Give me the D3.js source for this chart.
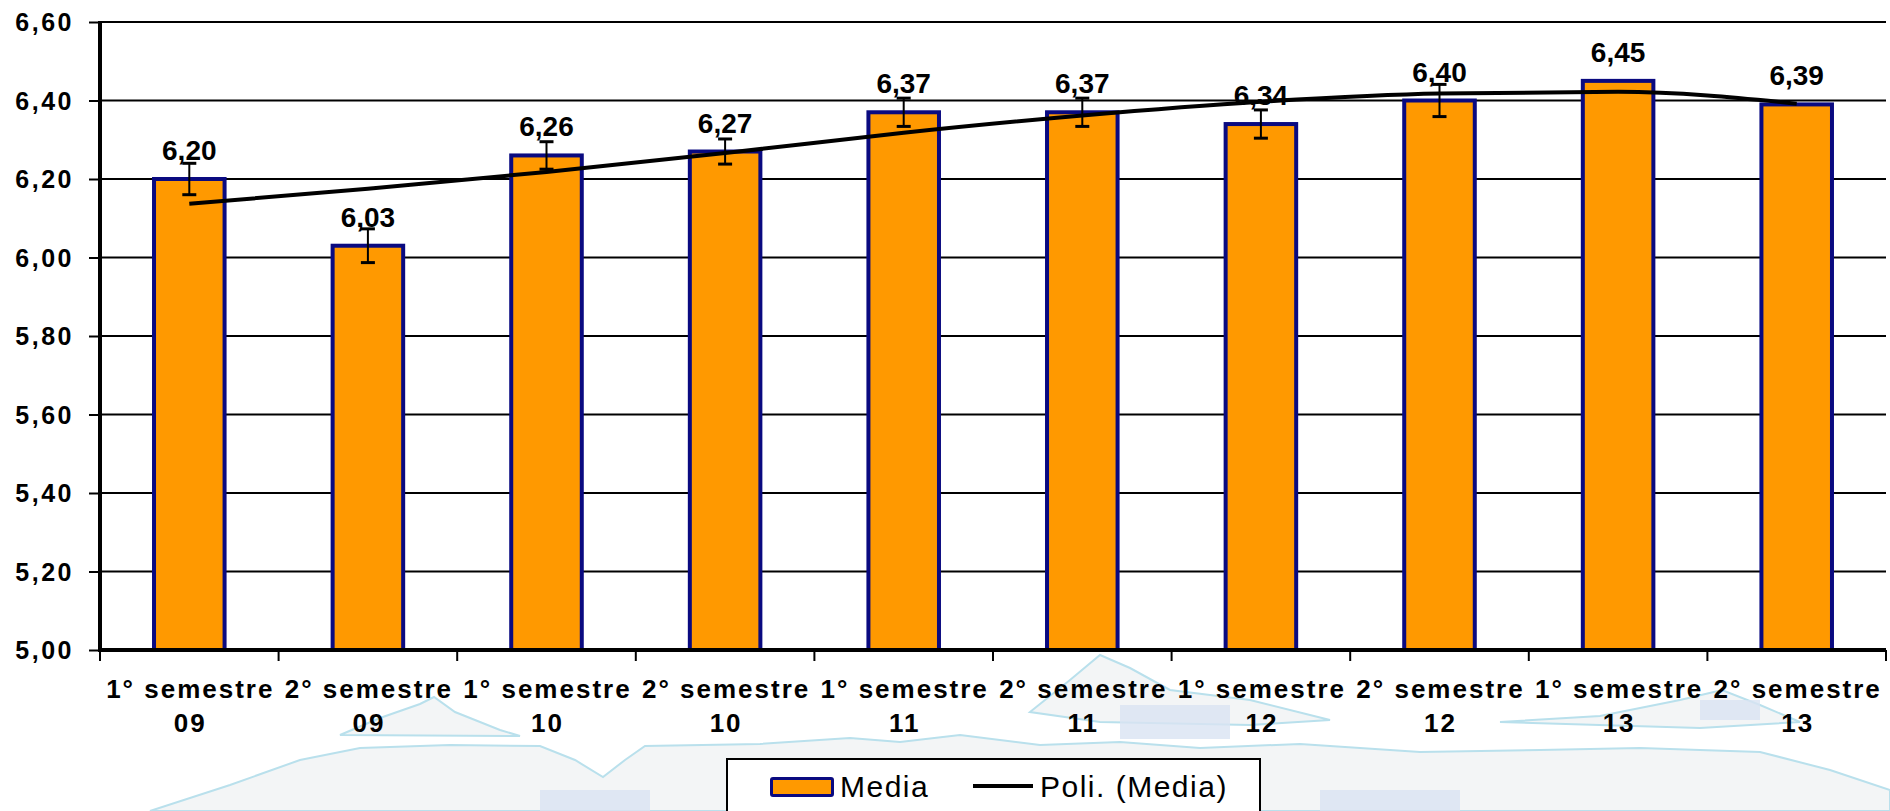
<!DOCTYPE html>
<html>
<head>
<meta charset="utf-8">
<script src="https://cdn.jsdelivr.net/npm/d3@7/dist/d3.min.js"></script>
<style>
  html, body { margin: 0; padding: 0; background: #ffffff; }
  svg { display: block; }
  text { font-family: "Liberation Sans", Arial, sans-serif; }
</style>
</head>
<body>
<svg id="chart" width="1890" height="811"></svg>
<script>
// ---- data ----
const categories = [
  ["1° semestre", "09"], ["2° semestre", "09"],
  ["1° semestre", "10"], ["2° semestre", "10"],
  ["1° semestre", "11"], ["2° semestre", "11"],
  ["1° semestre", "12"], ["2° semestre", "12"],
  ["1° semestre", "13"], ["2° semestre", "13"]
];
const media = [6.20, 6.03, 6.26, 6.27, 6.37, 6.37, 6.34, 6.40, 6.45, 6.39];
const errors = [0.040, 0.043, 0.035, 0.032, 0.036, 0.036, 0.036, 0.041, null, null];
const trend = [6.137, 6.175, 6.218, 6.266, 6.318, 6.362, 6.397, 6.418, 6.422, 6.392];
const yTicks = [5.00, 5.20, 5.40, 5.60, 5.80, 6.00, 6.20, 6.40, 6.60];
const legendLabels = ["Media", "Poli. (Media)"];

(function () {
const fmt = v => v.toFixed(2).replace(".", ",");

const svg = d3.select("#chart");
const pL = 100, pR = 1886, pT = 22, pB = 650;

// ---- faint background watermark (decoration) ----
const wm = svg.append("g").attr("class", "watermark");
const hills = [
  "M150,811 L230,785 L300,760 L360,748 L450,745 L540,746 L575,760 L603,777 L625,760 L645,746 L760,744 L850,738 L900,742 L960,735 L1040,745 L1120,742 L1200,748 L1300,744 L1420,752 L1540,750 L1640,748 L1760,752 L1830,770 L1890,790 L1890,811 Z",
  "M340,735 L380,718 L420,704 L434,697 L455,712 L480,722 L500,730 L520,736 Z",
  "M1030,712 L1070,680 L1100,655 L1130,668 L1170,690 L1250,700 L1330,720 L1250,725 L1100,722 Z",
  "M1500,722 L1600,716 L1680,700 L1722,690 L1760,705 L1800,722 L1700,728 Z"
];
wm.selectAll("path.hill").data(hills).join("path")
  .attr("class", "hill")
  .attr("d", d => d)
  .attr("fill", "#f3f5f6")
  .attr("stroke", "#b9e0ec")
  .attr("stroke-width", 2);
const patches = [[1120, 705, 110, 34], [1700, 700, 60, 20], [540, 790, 110, 21], [1320, 790, 140, 21], [870, 790, 80, 21]];
wm.selectAll("rect.patch").data(patches).join("rect")
  .attr("class", "patch")
  .attr("x", d => d[0]).attr("y", d => d[1]).attr("width", d => d[2]).attr("height", d => d[3])
  .attr("fill", "#d9e3f3").attr("opacity", 0.8);

// ---- scales ----
const x = d3.scaleBand().domain(d3.range(categories.length)).range([pL, pR]).padding(0);
const y = d3.scaleLinear().domain([5.0, 6.6]).range([pB, pT]);
const bw = x.bandwidth() * 0.395;
const cx = i => x(i) + x.bandwidth() / 2;

// plot area background
svg.append("rect").attr("x", pL).attr("y", pT).attr("width", pR - pL).attr("height", pB - pT).attr("fill", "#ffffff");

// ---- gridlines ----
svg.append("g").selectAll("line").data(yTicks.slice(1)).join("line")
  .attr("x1", pL).attr("x2", pR)
  .attr("y1", d => y(d)).attr("y2", d => y(d))
  .attr("stroke", "#000").attr("stroke-width", 2);

// ---- y axis ----
const yAxis = d3.axisLeft(y).tickValues(yTicks).tickSize(11).tickFormat(fmt);
const gy = svg.append("g").attr("transform", `translate(${pL},0)`).call(yAxis);
gy.select(".domain").remove();
gy.selectAll(".tick line").attr("stroke", "#000").attr("stroke-width", 2);
gy.selectAll(".tick text")
  .attr("x", -26)
  .attr("dy", "0.35em")
  .attr("fill", "#000")
  .style("font-family", "'Liberation Sans', Arial, sans-serif")
  .style("font-size", "25px")
  .style("font-weight", "bold")
  .style("letter-spacing", "2.5px");

// ---- x axis ticks ----
const xTickPos = d3.range(categories.length + 1).map(i => pL + i * x.bandwidth());
svg.append("g").selectAll("line").data(xTickPos).join("line")
  .attr("x1", d => d).attr("x2", d => d)
  .attr("y1", pB).attr("y2", pB + 11)
  .attr("stroke", "#000").attr("stroke-width", 2);

// ---- bars ----
svg.append("g").selectAll("rect").data(media).join("rect")
  .attr("x", (d, i) => cx(i) - bw / 2)
  .attr("y", d => y(d))
  .attr("width", bw)
  .attr("height", d => pB - y(d))
  .attr("fill", "#FF9900")
  .attr("stroke", "#0A0A80")
  .attr("stroke-width", 4);

// axis lines (drawn over bar bottoms)
svg.append("line").attr("x1", pL).attr("x2", pR).attr("y1", pB).attr("y2", pB)
  .attr("stroke", "#000").attr("stroke-width", 4);
svg.append("line").attr("x1", pL).attr("x2", pL).attr("y1", pT - 1).attr("y2", pB + 2)
  .attr("stroke", "#000").attr("stroke-width", 4);

// ---- x labels ----
const xl = svg.append("g").selectAll("text").data(categories).join("text")
  .attr("x", (d, i) => cx(i) + 1)
  .attr("y", 698)
  .attr("text-anchor", "middle")
  .attr("fill", "#000")
  .style("font-size", "26px")
  .style("font-weight", "bold")
  .style("letter-spacing", "2px");
xl.append("tspan").attr("x", (d, i) => cx(i) + 1).text(d => d[0]);
xl.append("tspan").attr("x", (d, i) => cx(i) + 1).attr("dy", 34).text(d => d[1]);

// ---- trend line ----
const line = d3.line().x((d, i) => cx(i)).y(d => y(d)).curve(d3.curveMonotoneX);
svg.append("path").datum(trend)
  .attr("d", line)
  .attr("fill", "none")
  .attr("stroke", "#000")
  .attr("stroke-width", 4);

// ---- error bars ----
const ebData = media.map((v, i) => ({ v, e: errors[i], i })).filter(d => d.e != null);
const eb = svg.append("g").selectAll("g").data(ebData).join("g");
eb.append("line")
  .attr("x1", d => cx(d.i)).attr("x2", d => cx(d.i))
  .attr("y1", d => y(d.v + d.e)).attr("y2", d => y(d.v - d.e))
  .attr("stroke", "#000").attr("stroke-width", 2);
eb.selectAll("line.cap").data(d => [[d.i, d.v + d.e], [d.i, d.v - d.e]]).join("line")
  .attr("class", "cap")
  .attr("x1", d => cx(d[0]) - 7).attr("x2", d => cx(d[0]) + 7)
  .attr("y1", d => y(d[1])).attr("y2", d => y(d[1]))
  .attr("stroke", "#000").attr("stroke-width", 3);

// ---- data labels ----
svg.append("g").selectAll("text").data(media).join("text")
  .attr("x", (d, i) => cx(i))
  .attr("y", d => y(d) - 19)
  .attr("text-anchor", "middle")
  .attr("fill", "#000")
  .style("font-size", "28px")
  .style("font-weight", "bold")
  .text(d => fmt(d));

// ---- legend ----
const lg = svg.append("g");
lg.append("rect").attr("x", 727).attr("y", 759).attr("width", 533).attr("height", 80)
  .attr("fill", "#ffffff").attr("stroke", "#000").attr("stroke-width", 2);
lg.append("rect").attr("x", 771.5).attr("y", 778.5).attr("width", 61).attr("height", 17)
  .attr("fill", "#FF9900").attr("stroke", "#0A0A80").attr("stroke-width", 3).attr("rx", 1.5);
lg.append("text").attr("x", 840).attr("y", 797).text(legendLabels[0])
  .style("font-size", "30px").style("letter-spacing", "1.5px").attr("fill", "#000");
lg.append("line").attr("x1", 973).attr("x2", 1033).attr("y1", 786).attr("y2", 786)
  .attr("stroke", "#000").attr("stroke-width", 4);
lg.append("text").attr("x", 1040).attr("y", 797).text(legendLabels[1])
  .style("font-size", "30px").style("letter-spacing", "1.5px").attr("fill", "#000");
})();
</script>
</body>
</html>
